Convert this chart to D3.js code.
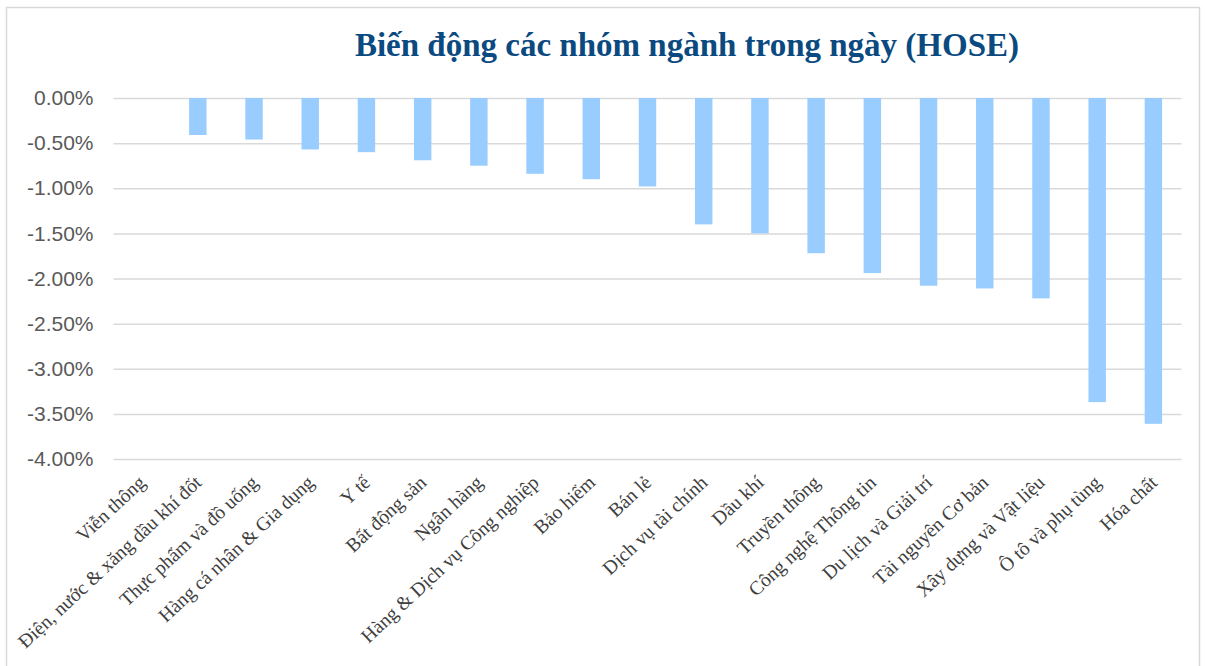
<!DOCTYPE html>
<html>
<head>
<meta charset="utf-8">
<script src="https://cdn.jsdelivr.net/npm/d3@7"></script>
<style>
    body { margin: 0; background: #fff; }
    svg { display: block; }
</style>
</head>
<body>
<div id="chart"></div>
<script>
// Chart data
const categories = [
    "Viễn thông",
    "Điện, nước & xăng dầu khí đốt",
    "Thực phẩm và đồ uống",
    "Hàng cá nhân & Gia dụng",
    "Y tế",
    "Bất động sản",
    "Ngân hàng",
    "Hàng & Dịch vụ Công nghiệp",
    "Bảo hiểm",
    "Bán lẻ",
    "Dịch vụ tài chính",
    "Dầu khí",
    "Truyền thông",
    "Công nghệ Thông tin",
    "Du lịch và Giải trí",
    "Tài nguyên Cơ bản",
    "Xây dựng và Vật liệu",
    "Ô tô và phụ tùng",
    "Hóa chất"
];
const changes = [
    0.0, -0.41, -0.46, -0.57, -0.60, -0.69, -0.75, -0.84, -0.90, -0.98,
    -1.40, -1.50, -1.72, -1.94, -2.08, -2.11, -2.22, -3.37, -3.61
];
const yTicks = [0, -0.5, -1, -1.5, -2, -2.5, -3, -3.5, -4];
const title = "Biến động các nhóm ngành trong ngày (HOSE)";

const width = 1205, height = 666;
const plot = { left: 113.5, right: 1181.5, top: 98, bottom: 459 };

const svg = d3.select("#chart").append("svg")
    .attr("width", width)
    .attr("height", height);

// Chart border
svg.append("rect")
    .attr("x", 6.5).attr("y", 7.5)
    .attr("width", 1193).attr("height", 700)
    .attr("fill", "none")
    .attr("stroke", "#d9d9d9")
    .attr("stroke-width", 1.5);

// Title
svg.append("text")
    .attr("x", 687).attr("y", 56)
    .attr("text-anchor", "middle")
    .attr("font-family", "'Liberation Serif', serif")
    .attr("font-weight", "bold")
    .attr("font-size", 33)
    .attr("fill", "#0b4a80")
    .text(title);

const x = d3.scaleBand()
    .domain(categories)
    .range([plot.left, plot.right])
    .paddingInner(0.69)
    .paddingOuter(0.345);

const y = d3.scaleLinear()
    .domain([-4, 0])
    .range([plot.bottom, plot.top]);

// Gridlines and y labels
const yAxis = d3.axisLeft(y)
    .tickValues(yTicks)
    .tickSize(-(plot.right - plot.left))
    .tickPadding(20)
    .tickFormat(d => d.toFixed(2) + "%");

const yg = svg.append("g")
    .attr("transform", `translate(${plot.left},0)`)
    .call(yAxis);
yg.select(".domain").remove();
yg.selectAll(".tick line")
    .attr("stroke", "#d9d9d9")
    .attr("stroke-width", 1.5);
yg.selectAll(".tick text")
    .attr("font-family", "'Liberation Sans', Arial, sans-serif")
    .attr("font-size", 21)
    .attr("fill", "#595959");

// Bars
svg.append("g")
    .selectAll("rect")
    .data(changes)
    .join("rect")
    .attr("x", (d, i) => x(categories[i]))
    .attr("y", y(0))
    .attr("width", x.bandwidth())
    .attr("height", d => y(d) - y(0))
    .attr("fill", "#99ccff");

// Category labels
const xAxis = d3.axisBottom(x).tickSize(0).tickPadding(0);
const xg = svg.append("g")
    .attr("transform", `translate(0,${plot.bottom})`)
    .call(xAxis);
xg.select(".domain").remove();
xg.selectAll(".tick text")
    .attr("font-family", "'Liberation Serif', serif")
    .attr("font-size", 19.5)
    .attr("fill", "#404040")
    .attr("text-anchor", "end")
    .attr("dy", null)
    .attr("transform", "translate(5,25) rotate(-43)");
</script>
</body>
</html>
